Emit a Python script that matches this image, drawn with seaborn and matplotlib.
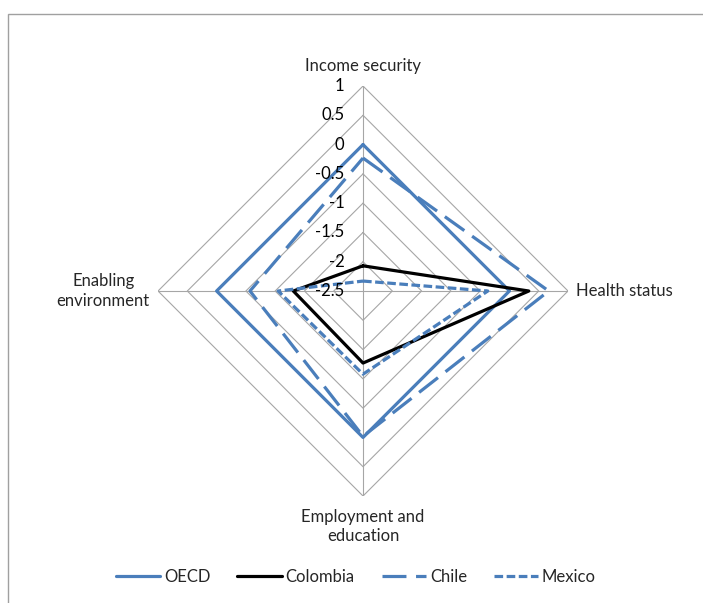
import numpy as np
import pandas as pd
import matplotlib
matplotlib.use('Agg')
import matplotlib.pyplot as plt
from matplotlib.patches import Rectangle
import seaborn as sns

# categories, clockwise from the top
categories = ['Income security', 'Health status', 'Employment and\neducation', 'Enabling\nenvironment']
series = ['OECD', 'Colombia', 'Chile', 'Mexico']
oecd = [0.0, 0.0, 0.0, 0.0]
colombia = [-2.07, 0.33, -1.27, -1.31]
chile = [-0.23, 0.67, -0.02, -0.57]
mexico = [-2.33, -0.37, -1.08, -1.05]
tick_values = [1, 0.5, 0, -0.5, -1, -1.5, -2, -2.5]
tick_labels = ['1', '0.5', '0', '-0.5', '-1', '-1.5', '-2', '-2.5']

blue = '#4A7EBB'
grid_col = '#A6A6A6'
fs = 12

sns.set_theme(style='white')
plt.rcParams['font.family'] = ['Lato', 'DejaVu Sans']

# long-form table, closing each polygon by repeating the first point
angles = np.linspace(0, 2 * np.pi, len(categories), endpoint=False)
rows = []
for name, vals in zip(series, [oecd, colombia, chile, mexico]):
    for a, v in zip(list(angles) + [angles[0] + 2 * np.pi], vals + vals[:1]):
        rows.append({'theta': a, 'value': v, 'country': name})
df = pd.DataFrame(rows)

fig = plt.figure(figsize=(7.03, 6.03), dpi=100)
ax = fig.add_axes([0.2248, 0.1774, 0.5832, 0.680], projection='polar')
ax.set_theta_zero_location('N')
ax.set_theta_direction(-1)
ax.set_ylim(-2.5, 1)

# diamond rings and spokes
for lev in tick_values[:-1]:
    ax.plot(list(angles) + [angles[0]], [lev] * 5, color=grid_col, lw=0.8, zorder=1)
for a in angles:
    ax.plot([a, a], [-2.5, 1], color=grid_col, lw=0.8, zorder=1)

n_before = len(ax.lines)
sns.lineplot(data=df, x='theta', y='value', hue='country', style='country',
             hue_order=series, style_order=series,
             palette={'OECD': blue, 'Colombia': 'black', 'Chile': blue, 'Mexico': blue},
             dashes={'OECD': '', 'Colombia': '', 'Chile': (7.5, 3), 'Mexico': (2.7, 1.1)},
             sort=False, estimator=None, legend=False, linewidth=2.3, ax=ax, zorder=3)
handles = ax.lines[n_before:]

ax.grid(False)
ax.spines['polar'].set_visible(False)
ax.set_xticks([])
ax.set_yticks([])
ax.set_xlabel('')
ax.set_ylabel('')

# value labels along the top spoke
for v, t in zip(tick_values, tick_labels):
    ax.annotate(t, xy=(0, v), xytext=(-13.5, 0), textcoords='offset points',
                ha='right', va='center', fontsize=fs, color='black')

# category labels
ax.annotate(categories[0], xy=(angles[0], 1), xytext=(0, 9), textcoords='offset points',
            ha='center', va='bottom', fontsize=fs)
ax.annotate(categories[1], xy=(angles[1], 1), xytext=(6, 0), textcoords='offset points',
            ha='left', va='center', fontsize=fs)
ax.annotate(categories[2], xy=(angles[2], 1), xytext=(0, -9), textcoords='offset points',
            ha='center', va='top', fontsize=fs, multialignment='center', linespacing=1.25)
ax.annotate(categories[3], xy=(angles[3], 1), xytext=(-6, 0), textcoords='offset points',
            ha='right', va='center', fontsize=fs, multialignment='center', linespacing=1.25)

fig.legend(handles, series, loc='center', bbox_to_anchor=(356 / 703, 1 - 577 / 603),
           ncol=4, frameon=False, fontsize=fs, handlelength=2.65, handletextpad=0.25,
           columnspacing=1.6)

# chart border (cut off at right and bottom)
fig.patches.append(Rectangle((8 / 703, -0.1), 1.2, 1.1 - 14 / 603, transform=fig.transFigure,
                             fill=False, ec='#A0A0A0', lw=1.0))

fig.savefig('out.png', dpi=100)
